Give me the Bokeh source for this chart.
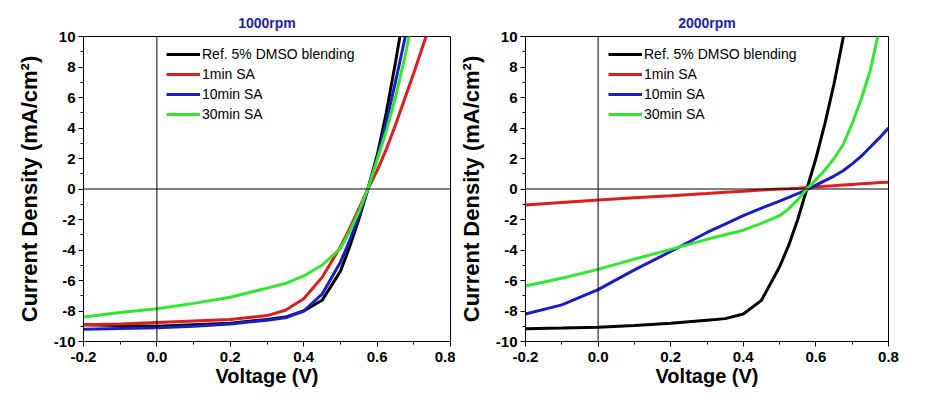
from bokeh.plotting import figure
from bokeh.layouts import row
from bokeh.models import Range1d, Span, SingleIntervalTicker, NumeralTickFormatter
from bokeh.embed import file_html
from bokeh.resources import INLINE

# ---------------- data ----------------
series_names = ["Ref. 5% DMSO blending", "1min SA", "10min SA", "30min SA"]
series_colors = ["#000000", "#dc1e1e", "#1c1cc4", "#30e630"]

# 1000 rpm panel
v_1000 = [-0.2, -0.1, 0.0, 0.1, 0.2, 0.3, 0.35, 0.4, 0.45, 0.5, 0.525, 0.55, 0.575,
          0.6, 0.625, 0.65, 0.675, 0.7, 0.75]
ref_1000 = [-8.9, -8.95, -9.0, -8.9, -8.8, -8.55, -8.4, -8.0, -7.3, -5.4, -3.8, -2.0, 0.0,
            2.2, 5.0, 8.3, 11.8, 15.0, 21.0]
sa1_1000 = [-8.9, -8.85, -8.75, -8.65, -8.55, -8.3, -7.95, -7.2, -5.8, -3.8, -2.6, -1.3, 0.0,
            1.2, 2.6, 4.2, 5.9, 7.6, 11.2]
sa10_1000 = [-9.2, -9.15, -9.1, -9.0, -8.85, -8.6, -8.45, -8.0, -6.9, -4.8, -3.4, -1.8, 0.0,
             2.0, 4.4, 7.0, 9.8, 12.5, 18.0]
sa30_1000 = [-8.4, -8.1, -7.85, -7.5, -7.1, -6.5, -6.2, -5.7, -5.0, -3.9, -2.8, -1.5, 0.0,
             1.9, 3.8, 6.0, 8.6, 11.5, 17.5]

# 2000 rpm panel
v_2000 = [-0.2, -0.1, 0.0, 0.1, 0.2, 0.3, 0.35, 0.4, 0.45, 0.5, 0.525, 0.55, 0.575,
          0.6, 0.625, 0.65, 0.675, 0.7, 0.725, 0.75, 0.775, 0.8]
ref_2000 = [-9.17, -9.12, -9.06, -8.95, -8.8, -8.6, -8.5, -8.2, -7.3, -5.1, -3.7, -2.0, 0.0,
            2.0, 4.3, 6.9, 9.9, 13.0, 16.5, 20.0, 24.0, 28.0]
sa1_2000 = [-1.05, -0.88, -0.72, -0.58, -0.45, -0.3, -0.22, -0.15, -0.07, 0.0, 0.02, 0.05, 0.1,
            0.15, 0.18, 0.22, 0.26, 0.3, 0.34, 0.38, 0.42, 0.45]
sa10_2000 = [-8.2, -7.6, -6.6, -5.3, -4.1, -2.85, -2.3, -1.75, -1.25, -0.8, -0.55, -0.3, -0.05,
             0.25, 0.55, 0.85, 1.2, 1.65, 2.15, 2.75, 3.35, 4.0]
sa30_2000 = [-6.36, -5.85, -5.27, -4.6, -3.96, -3.3, -3.0, -2.7, -2.25, -1.75, -1.3, -0.7, 0.0,
             0.6, 1.25, 2.0, 2.9, 4.3, 5.9, 7.8, 10.5, 13.5]

x_ticks_interval = 0.2
y_ticks_interval = 2
titles = ["1000rpm", "2000rpm"]
x_label = "Voltage (V)"
y_label = "Current Density (mA/cm²)"

FONT = "Liberation Sans"


def make_panel(title, v, ys, width, left, right):
    p = figure(width=width, height=407, x_range=Range1d(-0.2, 0.8), y_range=Range1d(-10, 10),
               output_backend="svg", toolbar_location=None,
               min_border_left=left, min_border_right=right, min_border_top=36, min_border_bottom=66)
    p.title.text = title
    p.title.align = "center"
    p.title.text_font = FONT
    p.title.text_font_size = "14px"
    p.title.text_font_style = "bold"
    p.title.text_color = "#2222a0"
    p.title.standoff = 12
    p.xgrid.visible = False
    p.ygrid.visible = False
    p.outline_line_color = "black"
    p.outline_line_width = 1
    p.background_fill_color = "white"
    p.border_fill_color = "white"

    p.xaxis.ticker = SingleIntervalTicker(interval=x_ticks_interval, num_minor_ticks=2)
    p.yaxis.ticker = SingleIntervalTicker(interval=y_ticks_interval, num_minor_ticks=2)
    p.xaxis.formatter = NumeralTickFormatter(format="0.0")
    p.yaxis.formatter = NumeralTickFormatter(format="0")
    for ax in (p.xaxis, p.yaxis):
        ax.axis_line_color = "black"
        ax.axis_line_width = 1
        ax.major_tick_line_color = "black"
        ax.minor_tick_line_color = "black"
        ax.major_tick_out = 5
        ax.major_tick_in = 0
        ax.minor_tick_out = 3
        ax.minor_tick_in = 0
        ax.major_label_text_font = FONT
        ax.major_label_text_font_style = "bold"
        ax.major_label_text_font_size = "15px"
        ax.major_label_text_color = "black"
        ax.axis_label_text_font = FONT
        ax.axis_label_text_font_style = "bold"
        ax.axis_label_text_color = "black"
    p.xaxis.axis_label = x_label
    p.yaxis.axis_label = y_label
    p.xaxis.axis_label_text_font_size = "20px"
    p.yaxis.axis_label_text_font_size = "22px"
    p.xaxis.major_label_standoff = 5
    p.yaxis.major_label_standoff = 3
    p.xaxis.axis_label_standoff = 0
    p.yaxis.axis_label_standoff = 9

    p.add_layout(Span(location=0, dimension="width", line_color="black", line_width=1))
    p.add_layout(Span(location=0, dimension="height", line_color="black", line_width=1))

    for name, color, y in zip(series_names, series_colors, ys):
        p.line(v, y, line_color=color, line_width=3, legend_label=name)

    lg = p.legend[0]
    lg.location = (83, 217)
    lg.background_fill_alpha = 0
    lg.border_line_alpha = 0
    lg.padding = 0
    lg.margin = 0
    lg.spacing = 0
    lg.glyph_width = 34
    lg.glyph_height = 20
    lg.label_height = 20
    lg.label_standoff = 2
    lg.label_text_font = FONT
    lg.label_text_font_size = "14px"
    lg.label_text_color = "black"
    return p


p1 = make_panel(titles[0], v_1000, [ref_1000, sa1_1000, sa10_1000, sa30_1000], 455, 83, 5)
p2 = make_panel(titles[1], v_2000, [ref_2000, sa1_2000, sa10_2000, sa30_2000], 476, 66, 43)

layout = row(p1, p2)
open("out.html", "w").write(file_html(layout, INLINE))
